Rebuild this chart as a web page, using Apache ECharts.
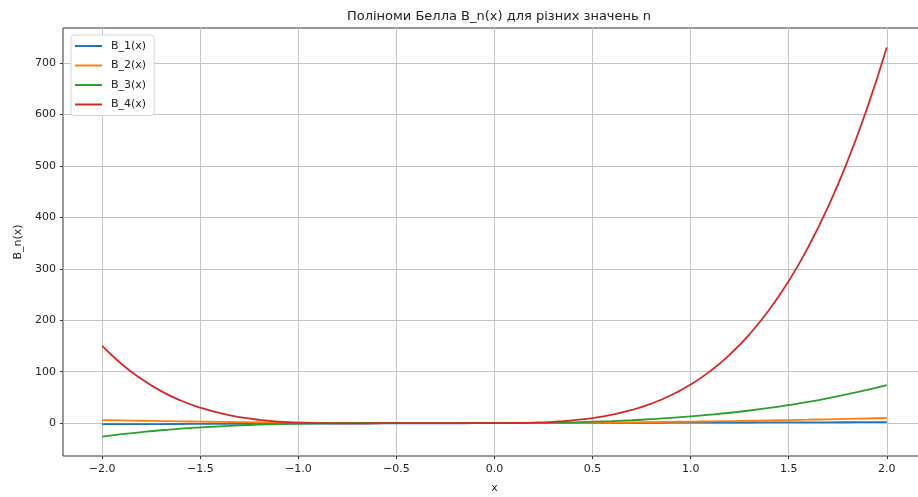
<!DOCTYPE html>
<html>
<head>
<meta charset="utf-8">
<script src="https://cdn.jsdelivr.net/npm/echarts@6/dist/echarts.min.js"></script>
<style>
  html, body { margin: 0; padding: 0; background: #fff; overflow: hidden; }
  #chart { width: 926px; height: 497px; }
</style>
</head>
<body>
<div id="chart"></div>
<script>
// x grid from -2 to 2, step 0.1
var xs = [-2.0, -1.9, -1.8, -1.7, -1.6, -1.5, -1.4, -1.3, -1.2, -1.1,
          -1.0, -0.9, -0.8, -0.7, -0.6, -0.5, -0.4, -0.3, -0.2, -0.1,
           0.0,  0.1,  0.2,  0.3,  0.4,  0.5,  0.6,  0.7,  0.8,  0.9,
           1.0,  1.1,  1.2,  1.3,  1.4,  1.5,  1.6,  1.7,  1.8,  1.9, 2.0];

var b1 = [-2.0, -1.9, -1.8, -1.7, -1.6, -1.5, -1.4, -1.3, -1.2, -1.1,
          -1.0, -0.9, -0.8, -0.7, -0.6, -0.5, -0.4, -0.3, -0.2, -0.1,
           0.0,  0.1,  0.2,  0.3,  0.4,  0.5,  0.6,  0.7,  0.8,  0.9,
           1.0,  1.1,  1.2,  1.3,  1.4,  1.5,  1.6,  1.7,  1.8,  1.9, 2.0];

var b2 = [6, 5.3, 4.7, 4.1, 3.5, 3, 2.5, 2.1, 1.7, 1.3,
          1, 0.7, 0.5, 0.3, 0.1, 0, -0.1, -0.1, -0.1, -0.1,
          0, 0.1, 0.3, 0.5, 0.7, 1, 1.3, 1.7, 2.1, 2.5,
          3, 3.5, 4.1, 4.7, 5.3, 6, 6.7, 7.5, 8.3, 9.1, 10];

var b3 = [-26, -21.4, -17.4, -13.8, -10.8, -8.3, -6.1, -4.3, -2.9, -1.8,
          -1, -0.4, 0, 0.2, 0.3, 0.3, 0.2, 0.1, 0, 0,
          0, 0.2, 0.5, 1.0, 1.7, 2.8, 4.1, 5.7, 7.7, 10.1,
          13, 16.4, 20.2, 24.6, 29.6, 35.3, 41.5, 48.5, 56.2, 64.7, 74];

var b4 = [150, 114.5, 85.6, 62.3, 44.1, 30, 19.5, 11.8, 6.5, 3.1,
          1, 0, -0.4, -0.4, -0.2, 0, 0.2, 0.2, 0.1, 0,
          0, 0.3, 1.1, 2.7, 5.6, 10, 16.5, 25.7, 38, 54.2,
          75, 101.1, 133.3, 172.6, 219.8, 276, 342.2, 419.5, 509, 612.1, 730];

var names = ['B_1(x)', 'B_2(x)', 'B_3(x)', 'B_4(x)'];
var colors = ['#1f77b4', '#ff7f0e', '#2ca02c', '#d62728'];
var xTicks = [-2.0, -1.5, -1.0, -0.5, 0.0, 0.5, 1.0, 1.5, 2.0];
var yTicks = [0, 100, 200, 300, 400, 500, 600, 700];

function pairs(ys) {
    return xs.map(function (x, i) { return [x, ys[i]]; });
}

var font = 'DejaVu Sans';
var chart = echarts.init(document.getElementById('chart'));

chart.setOption({
    animation: false,
    color: colors,
    textStyle: { fontFamily: font },
    title: {
        text: 'Поліноми Белла B_n(x) для різних значень n',
        left: 494,
        textAlign: 'center',
        top: 5,
        textStyle: { fontFamily: font, fontSize: 13, fontWeight: 'normal', color: '#222' }
    },
    grid: {
        left: 63,
        top: 28,
        right: 0,
        bottom: 41,
        show: true,
        borderColor: '#333',
        borderWidth: 1,
        containLabel: false,
        outerBoundsMode: 'none'
    },
    legend: {
        orient: 'vertical',
        left: 71,
        top: 35,
        padding: [4, 8, 4, 4],
        icon: 'rect',
        itemWidth: 27,
        itemHeight: 2,
        itemGap: 5.5,
        borderColor: '#d4d4d4',
        borderWidth: 1,
        borderRadius: 3,
        backgroundColor: '#fff',
        textStyle: { fontFamily: font, fontSize: 11, color: '#222', lineHeight: 14, padding: [0, 0, 0, 4] },
        data: names
    },
    xAxis: {
        type: 'value',
        min: -2.2,
        max: 2.2,
        name: 'x',
        nameLocation: 'middle',
        nameGap: 27,
        nameTextStyle: { fontFamily: font, fontSize: 11, color: '#222' },
        axisLine: { show: false, onZero: false },
        axisTick: { show: true, length: 3, lineStyle: { color: '#333' }, customValues: xTicks },
        axisLabel: {
            fontFamily: font, fontSize: 11, color: '#222', margin: 8,
            customValues: xTicks,
            formatter: function (v) { return v.toFixed(1).replace('-', '\u2212'); }
        },
        splitLine: { show: true, lineStyle: { color: '#c4c4c4', width: 1 } }
    },
    yAxis: {
        type: 'value',
        min: -63.8,
        max: 767.8,
        name: 'B_n(x)',
        nameLocation: 'middle',
        nameRotate: 90,
        nameGap: 38,
        nameTextStyle: { fontFamily: font, fontSize: 11, color: '#222' },
        axisLine: { show: false, onZero: false },
        axisTick: { show: true, length: 3, lineStyle: { color: '#333' }, customValues: yTicks },
        axisLabel: {
            fontFamily: font, fontSize: 11, color: '#222', margin: 7,
            customValues: yTicks
        },
        splitLine: { show: true, lineStyle: { color: '#c4c4c4', width: 1 } }
    },
    series: [b1, b2, b3, b4].map(function (ys, i) {
        return {
            name: names[i],
            type: 'line',
            data: pairs(ys),
            showSymbol: false,
            smooth: true,
            lineStyle: { width: 1.8, color: colors[i] },
            itemStyle: { color: colors[i] }
        };
    })
});
</script>
</body>
</html>
